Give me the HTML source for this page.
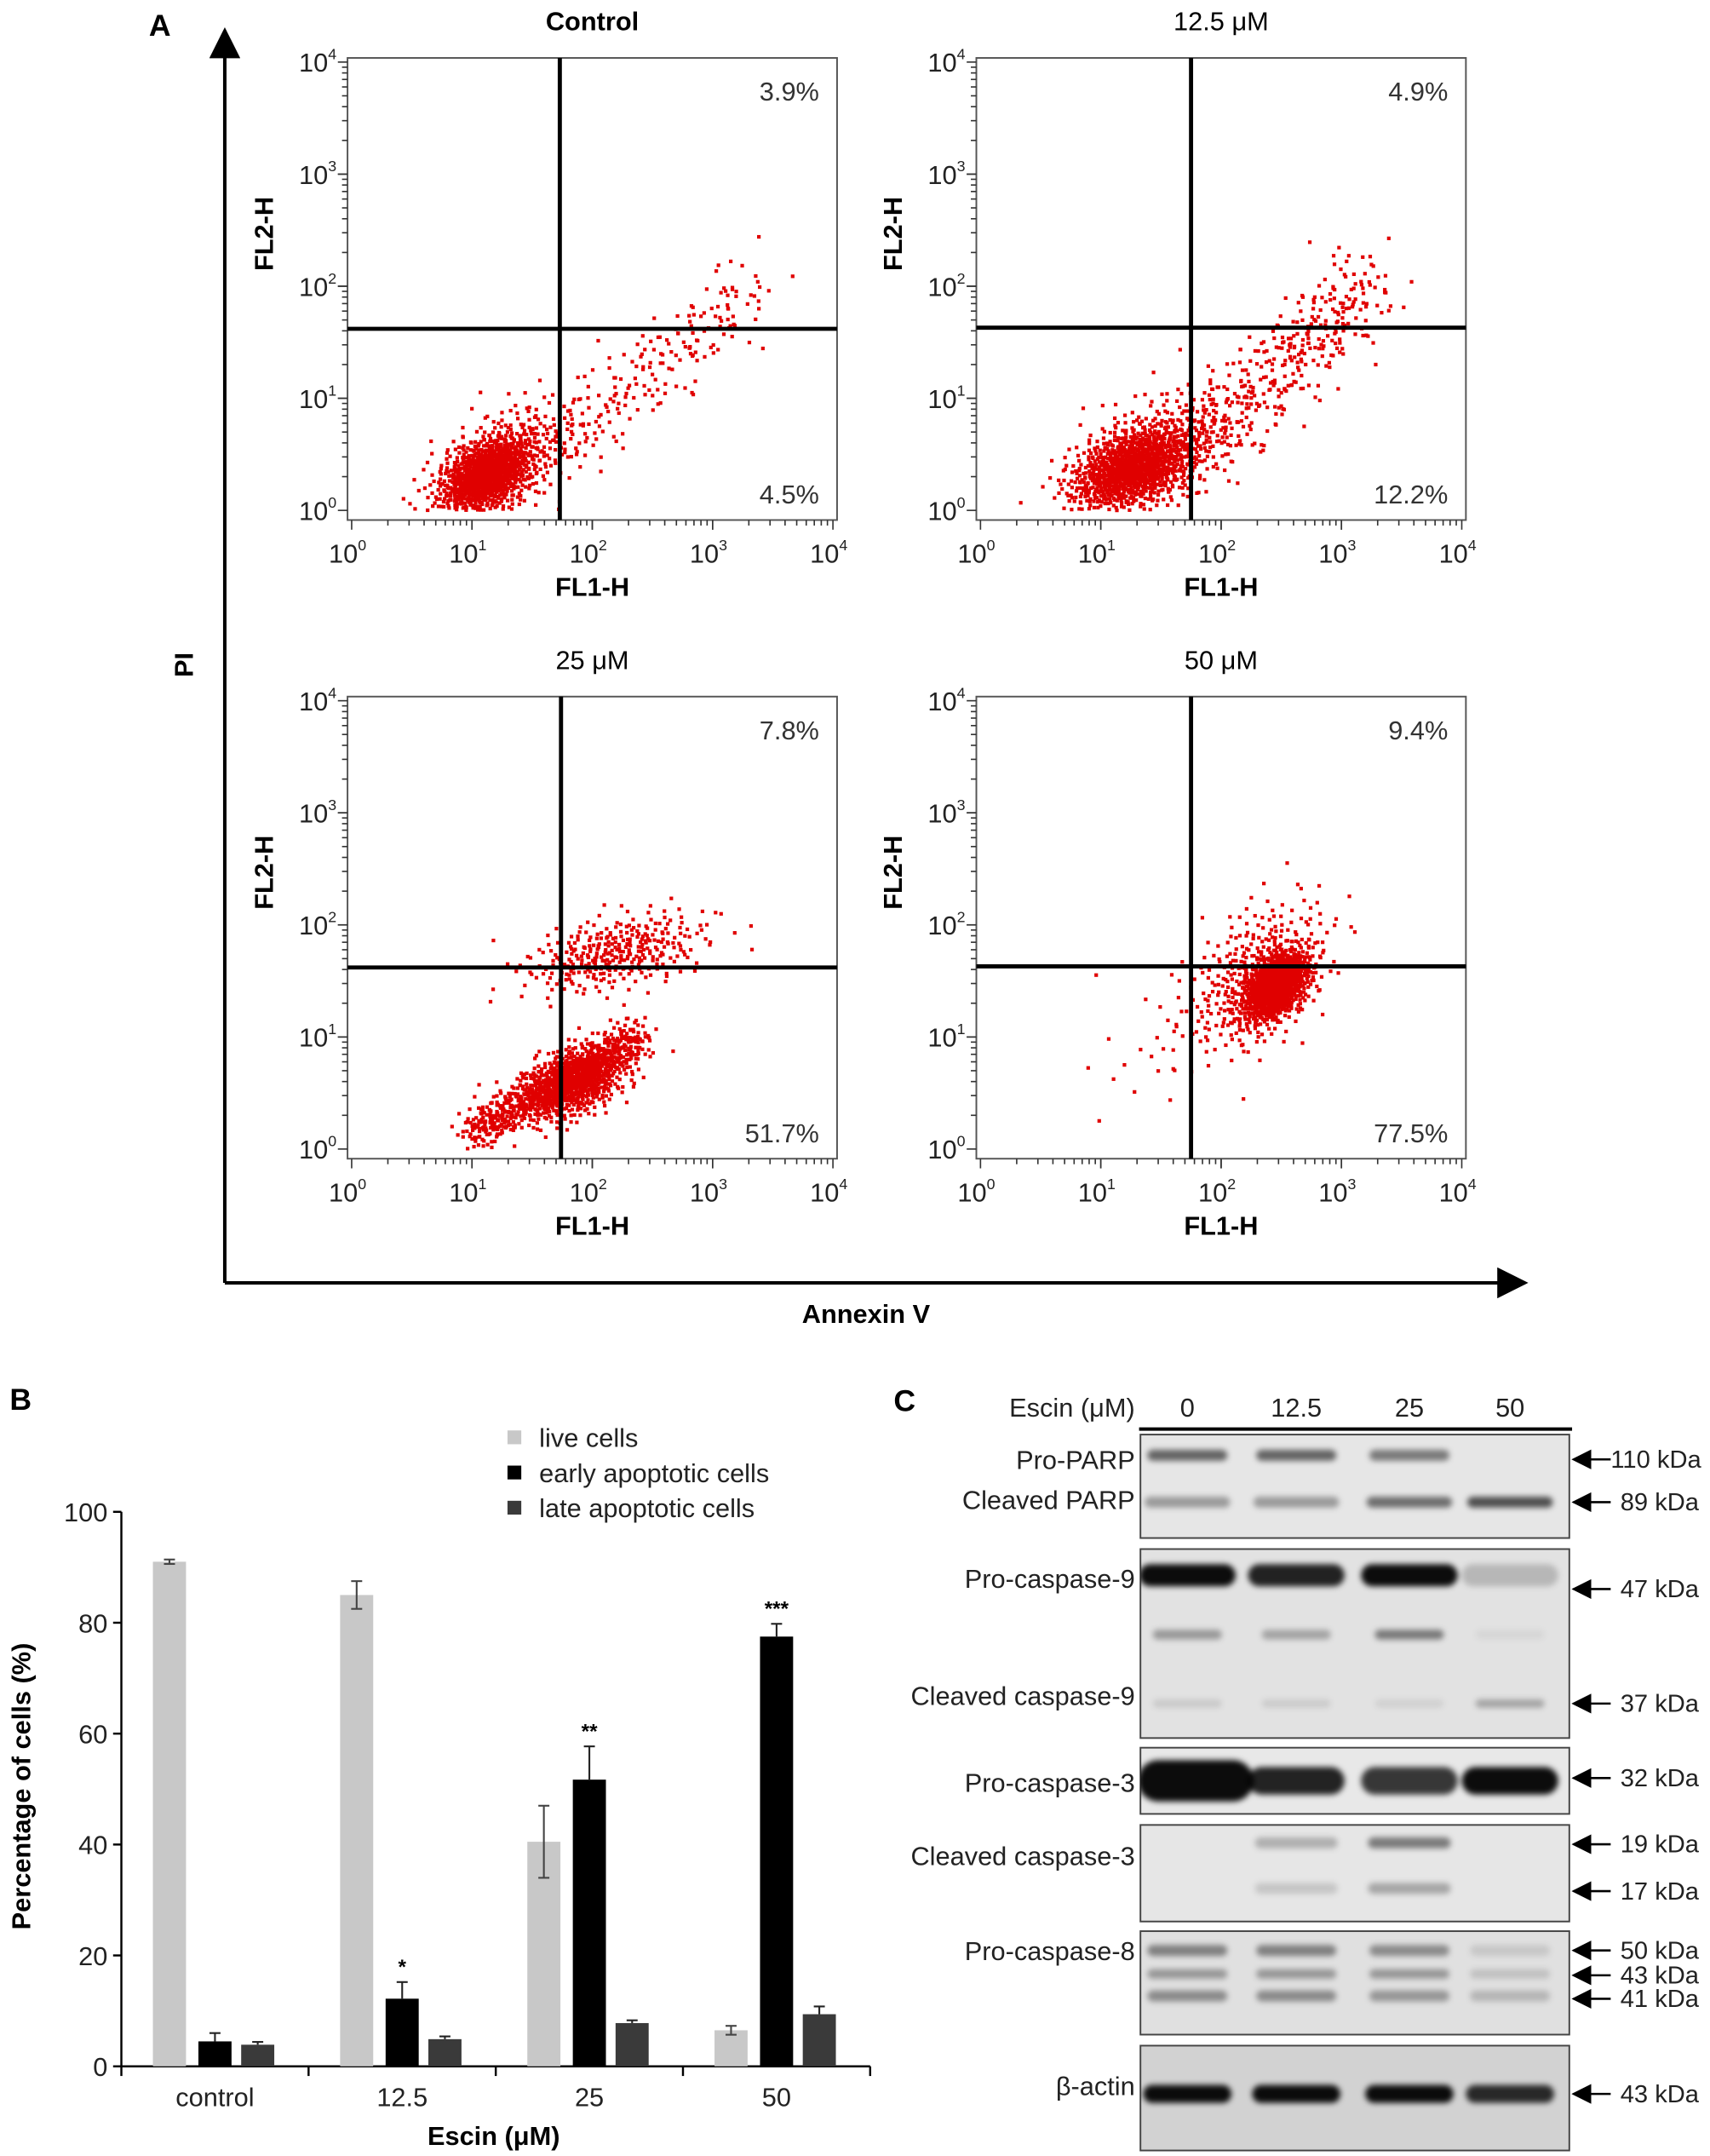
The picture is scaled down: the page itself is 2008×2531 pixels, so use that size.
<!DOCTYPE html>
<html><head><meta charset="utf-8">
<style>
html,body{margin:0;padding:0;background:#fff;}
body{width:2008px;height:2531px;overflow:hidden;}
svg{display:block;}
text{font-family:"Liberation Sans",Arial,sans-serif;}
</style></head>
<body>
<svg id="fig" width="2008" height="2531" viewBox="0 0 1240 1563" xmlns="http://www.w3.org/2000/svg">
<defs>
<marker id="arr" viewBox="0 0 10 10" refX="9" refY="5" markerWidth="9" markerHeight="9" orient="auto"><path d="M0,0 L10,5 L0,10 z" fill="#000"/></marker>
<filter id="blur2"><feGaussianBlur stdDeviation="2.2"/></filter>
<clipPath id="blotClip"><rect x="827" y="1040" width="311" height="520"/></clipPath>
</defs>
<g id="panelA">
<text x="108" y="26" font-size="22" font-weight="bold">A</text>
<line x1="163" y1="930" x2="163" y2="22" stroke="#000" stroke-width="2.5" marker-end="url(#arr)"/>
<line x1="163" y1="930" x2="1106" y2="930" stroke="#000" stroke-width="2.5" marker-end="url(#arr)"/>
<text x="140" y="482" font-size="19" font-weight="bold" text-anchor="middle" transform="rotate(-90 140 482)">PI</text>
<text x="628" y="959" font-size="19" font-weight="bold" text-anchor="middle">Annexin V</text>
</g>
<g id="panelB"></g>
<g id="panelC"></g>
</svg>
<script>
// ---------- Panel A data ----------
const facsTitles = ["Control", "12.5 μM", "25 μM", "50 μM"];
const facsUpperRight = ["3.9%", "4.9%", "7.8%", "9.4%"];
const facsLowerRight = ["4.5%", "12.2%", "51.7%", "77.5%"];
const gateX = [1.73, 1.75, 1.74, 1.75];   // log10 FL1-H
const gateY = [1.62, 1.63, 1.62, 1.63];   // log10 FL2-H
// clusters: [type, x0, y0, x1/sdx, y1/sdy, width, count]  (log10 units)
const facsClusters = [
  [["blob",1.12,0.32,0.2,0.16,0,900],["blob",1.3,0.45,0.3,0.25,0,250],["trail",1.7,0.55,3.35,2.0,0.3,200]],
  [["blob",1.28,0.38,0.26,0.17,0,1000],["blob",1.45,0.5,0.35,0.28,0,300],["trail",1.85,0.6,3.25,2.05,0.34,360]],
  [["blob",1.85,0.6,0.22,0.15,0,700],["trail",1.0,0.15,2.4,1.0,0.16,700],["blob",2.2,1.75,0.38,0.16,0,330]],
  [["blob",2.45,1.45,0.14,0.14,0,900],["blob",2.3,1.55,0.3,0.3,0,350],["blob",1.5,0.9,0.35,0.3,0,25]]
];
const decadeLabels = ["0","1","2","3","4"];
const facsBoxes = [[252,42],[708,42],[252,505],[708,505]];
const BW = 355, BH = 335;

// ---------- Panel B data ----------
const barGroups = ["control", "12.5", "25", "50"];
const liveCells = [91, 85, 40.5, 6.5];
const liveErr = [0.4, 2.5, 6.5, 0.8];
const earlyCells = [4.5, 12.2, 51.7, 77.5];
const earlyErr = [1.5, 3, 6, 2.3];
const lateCells = [3.9, 4.9, 7.8, 9.4];
const lateErr = [0.5, 0.5, 0.5, 1.4];
const sigMarks = ["", "*", "**", "***"];
const yTicks = [0, 20, 40, 60, 80, 100];
const seriesNames = ["live cells", "early apoptotic cells", "late apoptotic cells"];

// ---------- Panel C data ----------
const laneLabels = ["0", "12.5", "25", "50"];
const blotProteins = ["Pro-PARP","Cleaved PARP","Pro-caspase-9","Cleaved caspase-9","Pro-caspase-3","Cleaved caspase-3","Pro-caspase-8","β-actin"];
const kdaLabels = ["110 kDa","89 kDa","47 kDa","37 kDa","32 kDa","19 kDa","17 kDa","50 kDa","43 kDa","41 kDa","43 kDa"];
// band intensities per row (0..1)
const bandIntensity = [
  [0.6,0.6,0.5,0.0],
  [0.35,0.35,0.55,0.7],
  [1.0,0.9,1.0,0.2],
  [0.35,0.3,0.5,0.05],
  [0.12,0.1,0.08,0.3],
  [1.0,0.9,0.8,1.0],
  [0.0,0.25,0.5,0.0],
  [0.0,0.15,0.3,0.0],
  [0.45,0.45,0.4,0.12],
  [0.35,0.35,0.35,0.15],
  [0.4,0.4,0.35,0.2],
  [1.0,1.0,1.0,0.85]
];

const NS = "http://www.w3.org/2000/svg";
function mk(tag, attrs, parent){const e=document.createElementNS(NS,tag);for(const k in attrs)e.setAttribute(k,attrs[k]);parent.appendChild(e);return e;}
function txt(parent,x,y,s,size,opts){const t=mk("text",Object.assign({x:x,y:y,"font-size":size},opts||{}),parent);t.textContent=s;return t;}
function halton(i,b){let f=1,r=0;while(i>0){f/=b;r+=f*(i%b);i=Math.floor(i/b);}return r;}

const pA = document.getElementById("panelA");
facsBoxes.forEach((bx,p)=>{
  const [L,T]=bx;
  const g=mk("g",{},pA);
  
  
  const x0=L+3, x1=L+BW-3, y0=T+BH-7, y1=T+3;
  const sx=v=>x0+(x1-x0)*v/4, sy=v=>y0+(y1-y0)*v/4;
  const pts=mk("g",{fill:"#e00000"},g);
  
  
  let idx=1+p*7000;
  facsClusters[p].forEach(c=>{
    const [type,a,b,c2,d,w,n]=c;
    for(let i=0;i<n;i++,idx++){
      const u=halton(idx,2)*0.999+0.0005, v=halton(idx,3);
      const r=Math.sqrt(-2*Math.log(u));
      const gx=r*Math.cos(2*Math.PI*v), gy=r*Math.sin(2*Math.PI*v);
      let X,Y;
      if(type==="blob"){X=a+gx*c2;Y=b+gy*d+gx*d*0.5;}
      else{const t=halton(idx,5);X=a+(c2-a)*t+gx*w*0.5;Y=b+(d-b)*t+gy*w*0.6;}
      if(X<0.05||X>3.95||Y<0||Y>3.95)continue;
      mk("rect",{x:(sx(X)-1.3).toFixed(1),y:(sy(Y)-1.3).toFixed(1),width:2.6,height:2.6},pts);
    }
  });
  const box=mk("rect",{x:L,y:T,width:BW,height:BH,fill:"none",stroke:"#555","stroke-width":1.2},g);
  
  
  const gv=mk("line",{x1:sx(gateX[p]),x2:sx(gateX[p]),y1:T,y2:T+BH,stroke:"#000","stroke-width":3},g);
  
  
  const gh=mk("line",{x1:L,x2:L+BW,y1:sy(gateY[p]),y2:sy(gateY[p]),stroke:"#000","stroke-width":3},g);
  
  
  const tk=mk("g",{stroke:"#333","stroke-width":1},g);
  for(let dcd=0;dcd<4;dcd++){for(let m=1;m<=10;m++){const v=dcd+Math.log10(m);const maj=(m===1||m===10);
    mk("line",{x1:sx(v),x2:sx(v),y1:T+BH,y2:T+BH+(maj?7:4)},tk);
    mk("line",{x1:L,x2:L-(maj?7:4),y1:sy(v),y2:sy(v)},tk);}}
  decadeLabels.forEach((s,i)=>{
    const lx=txt(g,sx(i)-3,T+BH+31,"10",19,{"text-anchor":"middle",fill:"#222"});
    const sup=mk("tspan",{dy:-9,"font-size":11},lx);sup.textContent=s;
    
    
    const ly=txt(g,L-8,sy(i)+7,"10",19,{"text-anchor":"end",fill:"#222"});
    const sup2=mk("tspan",{dy:-9,"font-size":11},ly);sup2.textContent=s;
    
    
  });
  const tt=txt(g,L+BW/2,T-20,facsTitles[p],19,{"text-anchor":"middle","font-weight":p===0?"bold":"normal"});
  
  
  const xt=txt(g,L+BW/2,T+BH+55,"FL1-H",19,{"text-anchor":"middle","font-weight":"bold"});
  
  
  const yt=txt(g,L-54,T+BH/2-40,"FL2-H",19,{"text-anchor":"middle","font-weight":"bold",transform:`rotate(-90 ${L-54} ${T+BH/2-40})`});
  
  
  const ur=txt(g,L+BW-13,T+31,facsUpperRight[p],19,{"text-anchor":"end",fill:"#333"});
  
  
  const lr=txt(g,L+BW-13,T+BH-12,facsLowerRight[p],19,{"text-anchor":"end",fill:"#333"});
  
  
});

// ---------- Panel B ----------
const pB=document.getElementById("panelB");
const AX={l:88,r:631,top:1096,bot:1498};
const yS=v=>AX.bot-(AX.bot-AX.top)*v/100;
const groupW=(AX.r-AX.l)/barGroups.length;
const gc=i=>AX.l+groupW*(i+0.5);
txt(pB,7,1022,"B",22,{"font-weight":"bold"});
const axs=mk("g",{stroke:"#000","stroke-width":1.5},pB);


mk("line",{x1:AX.l,x2:AX.l,y1:AX.top,y2:AX.bot},axs);
mk("line",{x1:AX.l,x2:AX.r,y1:AX.bot,y2:AX.bot},axs);
yTicks.forEach(v=>{mk("line",{x1:AX.l-6,x2:AX.l,y1:yS(v),y2:yS(v)},axs);
  const t=txt(pB,AX.l-10,yS(v)+7,String(v),19,{"text-anchor":"end",fill:"#222"});
  
  });
for(let i=0;i<=barGroups.length;i++){mk("line",{x1:AX.l+groupW*i,x2:AX.l+groupW*i,y1:AX.bot,y2:AX.bot+7},axs);}
const series=[[liveCells,liveErr,"#c8c8c8","live"],[earlyCells,earlyErr,"#000","early"],[lateCells,lateErr,"#3a3a3a","late"]];
const barW=24, off=[-33,0,31];
barGroups.forEach((gname,i)=>{
  const t=txt(pB,gc(i),1527,gname,19,{"text-anchor":"middle",fill:"#222"});
  
  
  series.forEach((s,k)=>{
    const v=s[0][i],e=s[1][i],cx=gc(i)+off[k];
    const r=mk("rect",{x:cx-barW/2,y:yS(v),width:barW,height:AX.bot-yS(v),fill:s[2]},pB);
    
    
    const eg=mk("g",{stroke:k===0?"#444":"#222","stroke-width":1.3},pB);
    
    
    mk("line",{x1:cx,x2:cx,y1:yS(v+e),y2:yS(Math.max(0,v-(k===0?e:0)))},eg);
    mk("line",{x1:cx-4,x2:cx+4,y1:yS(v+e),y2:yS(v+e)},eg);
    if(k===0)mk("line",{x1:cx-4,x2:cx+4,y1:yS(v-e),y2:yS(v-e)},eg);
  });
  if(sigMarks[i]){const cx=gc(i);const t2=txt(pB,cx,yS(earlyCells[i]+earlyErr[i])-6,sigMarks[i],15,{"text-anchor":"middle","font-weight":"bold"});
    
    }
});
seriesNames.forEach((n,k)=>{
  const y=1043+k*25.5;
  const lg=mk("g",{},pB);
  
  
  mk("rect",{x:368,y:y-6,width:10,height:10,fill:series[k][2]},lg);
  txt(lg,391,y+6,n,19,{fill:"#222"});
});
const yl=txt(pB,22,1295,"Percentage of cells (%)",19,{"text-anchor":"middle","font-weight":"bold",transform:"rotate(-90 22 1295)"});


const xl=txt(pB,358,1555,"Escin (μM)",19,{"text-anchor":"middle","font-weight":"bold"});



// ---------- Panel C ----------
const pC=document.getElementById("panelC");
txt(pC,648,1023,"C",22,{"font-weight":"bold"});
txt(pC,823,1027,"Escin (μM)",19,{"text-anchor":"end",fill:"#222"});
const laneX=[861,940,1022,1095];
laneLabels.forEach((s,i)=>{const t=txt(pC,laneX[i],1027,s,19,{"text-anchor":"middle",fill:"#222"});
  
  });
mk("line",{x1:826,x2:1140,y1:1036,y2:1036,stroke:"#000","stroke-width":2.5},pC);
const BX=827, BWb=311;
const blotBoxes=[[1040,75,"#e6e6e6"],[1123,137,"#e2e2e2"],[1267,48,"#e8e8e8"],[1323,70,"#e6e6e6"],[1400,75,"#e0e0e0"],[1483,76,"#d2d2d2"]];
blotBoxes.forEach((b,i)=>{const r=mk("rect",{x:BX,y:b[0],width:BWb,height:b[1],fill:b[2],stroke:"#444","stroke-width":1.2},pC);
  
  });
const bandRows=[[1055,8,58],[1089,8,62],[1142,16,70],[1185,7,50],[1235,6,50],[1291,20,70],[1336,8,60],[1369,8,60],[1414,8,58],[1431,7,58],[1447,8,58],[1518,13,64]];
const clipG=mk("g",{"clip-path":"url(#blotClip)"},pC);
const bandG=mk("g",{filter:"url(#blur2)"},clipG);


bandRows.forEach((row,r)=>{
  bandIntensity[r].forEach((v,l)=>{
    if(v<=0)return;
    let w=row[2], h=row[1], cx=laneX[l];
    if(r===5&&l===0){w=84;h=30;cx=laneX[l]+6;}
    const e=mk("rect",{x:cx-w/2,y:row[0]-h/2,width:w,height:h,rx:h/2,fill:"#000","fill-opacity":Math.min(1,v*0.95).toFixed(2)},bandG);
    
    
  });
});
const protPos=[[1065,0],[1094,1],[1151,2],[1236,3],[1299,4],[1352,5],[1421,6],[1519,7]];
protPos.forEach(pp=>{const t=txt(pC,823,pp[0],blotProteins[pp[1]],19,{"text-anchor":"end",fill:"#222"});
  
  });
const kdaY=[1058,1089,1152,1235,1289,1337,1371,1414,1432,1449,1518];
kdaY.forEach((y,i)=>{
  const g=mk("g",{},pC);
  
  
  mk("line",{x1:1168,x2:1141,y1:y,y2:y,stroke:"#000","stroke-width":1.6,"marker-end":"url(#arr)"},g);
  txt(g,i===0?1168:1175,y+6,kdaLabels[i],18,{fill:"#222"});
});
</script>
</body></html>
